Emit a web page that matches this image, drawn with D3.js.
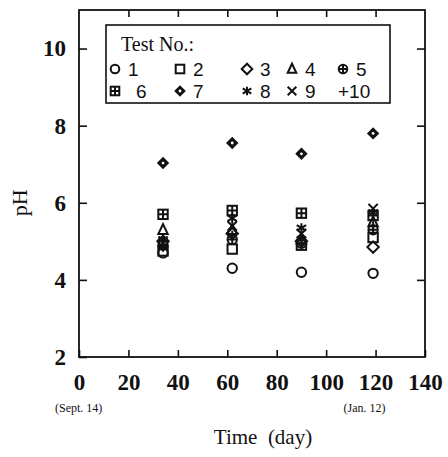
<!DOCTYPE html>
<html>
<head>
<meta charset="utf-8">
<script src="https://cdn.jsdelivr.net/npm/d3@7"></script>
<style>
  body { margin: 0; background: #fff; }
  .axis text { font-family: "Liberation Serif", serif; font-weight: bold; font-size: 23px; fill: #111; }
  .axis line { stroke: #111; stroke-width: 1.6; }
  .axis path { display: none; }
</style>
</head>
<body>
<div id="chart"></div>
<script>
const days = [34, 62, 90, 119];
const tests = ["1", "2", "3", "4", "5", "6", "7", "8", "9", "10"];
const shapes = ["circle", "square", "diamond", "triangle", "circlePlus", "squarePlus", "diamondFill", "asterisk", "times", "plus"];
const ph1 = [4.7, 4.3, 4.2, 4.17];
const ph2 = [4.75, 4.8, 4.9, 5.1];
const ph3 = [5.0, 5.2, 5.0, 4.85];
const ph4 = [5.3, 5.3, 5.05, 5.5];
const ph5 = [4.9, 5.05, 4.95, 5.3];
const ph6 = [5.7, 5.8, 5.73, 5.67];
const ph7 = [7.03, 7.55, 7.27, 7.8];
const ph8 = [5.05, 5.6, 5.35, 5.75];
const ph9 = [4.95, 5.4, 5.2, 5.85];
const ph10 = [4.85, 5.15, 5.1, 5.4];
const series = [ph1, ph2, ph3, ph4, ph5, ph6, ph7, ph8, ph9, ph10];
const xTicks = [0, 20, 40, 60, 80, 100, 120, 140];
const yTicks = [2, 4, 6, 8, 10];

const margin = { top: 10, right: 23, bottom: 100, left: 79 },
  width = 448 - margin.left - margin.right,
  height = 457 - margin.top - margin.bottom;

const x = d3.scaleLinear().domain([0, 140]).range([0, width]),
  y = d3.scaleLinear().domain([2, 11]).range([height, 0]);

const svg = d3
  .select("#chart")
  .append("svg")
  .attr("width", 448)
  .attr("height", 457)
  .append("g")
  .attr("transform", "translate(" + margin.left + "," + margin.top + ")");

// axes with inward ticks
svg.append("g").attr("class", "axis")
  .attr("transform", "translate(0," + height + ")")
  .call(d3.axisBottom(x).tickValues(xTicks).tickSizeInner(-7).tickSizeOuter(0).tickPadding(17));
svg.append("g").attr("class", "axis")
  .call(d3.axisLeft(y).tickValues(yTicks).tickSizeInner(-8).tickSizeOuter(0).tickPadding(13));
svg.append("g").attr("class", "axis")
  .call(d3.axisTop(x).tickValues(xTicks.slice(1, -1)).tickSizeInner(-7).tickSizeOuter(0).tickFormat(""));
svg.append("g").attr("class", "axis")
  .attr("transform", "translate(" + width + ",0)")
  .call(d3.axisRight(y).tickValues(yTicks.slice(1)).tickSizeInner(-8).tickSizeOuter(0).tickFormat(""));

svg.append("rect")
  .attr("width", width).attr("height", height)
  .attr("fill", "none").attr("stroke", "#111").attr("stroke-width", 1.8);

function marker(g, type, h) {
  const st = (sel) => sel.attr("fill", "none").attr("stroke", "#111").attr("stroke-width", 2);
  if (type === "circle" || type === "circlePlus") {
    st(g.append("circle").attr("r", h));
  }
  if (type === "square" || type === "squarePlus") {
    st(g.append("rect").attr("x", -h).attr("y", -h).attr("width", 2 * h).attr("height", 2 * h));
  }
  if (type === "circlePlus" || type === "squarePlus" || type === "plus") {
    st(g.append("path").attr("d", `M${-h},0H${h}M0,${-h}V${h}`));
  }
  if (type === "diamond") {
    st(g.append("path").attr("d", `M0,${-h - 1}L${h + 1},0L0,${h + 1}L${-h - 1},0Z`));
  }
  if (type === "diamondFill") {
    g.append("path").attr("d", `M0,${-h - 1.5}L${h + 1.5},0L0,${h + 1.5}L${-h - 1.5},0Z`).attr("fill", "#111");
    g.append("circle").attr("r", 1.4).attr("fill", "#fff");
  }
  if (type === "triangle") {
    st(g.append("path").attr("d", `M0,${-h - 1}L${h},${h - 0.5}L${-h},${h - 0.5}Z`));
  }
  if (type === "asterisk") {
    st(g.append("path").attr("d", `M0,${-h}V${h}M${-h},${-h * 0.6}L${h},${h * 0.6}M${-h},${h * 0.6}L${h},${-h * 0.6}`));
  }
  if (type === "times") {
    st(g.append("path").attr("d", `M${-h},${-h}L${h},${h}M${-h},${h}L${h},${-h}`));
  }
}

// data points
series.forEach((vals, i) => {
  vals.forEach((v, j) => {
    const g = svg.append("g").attr("transform", "translate(" + x(days[j]) + "," + y(v) + ")");
    marker(g, shapes[i], 4.7);
  });
});

// legend
const leg = svg.append("g").attr("transform", "translate(" + (106 - margin.left) + "," + (25 - margin.top) + ")");
leg.append("rect").attr("width", 284).attr("height", 78)
  .attr("fill", "#fff").attr("stroke", "#111").attr("stroke-width", 1.6);
leg.append("text").attr("x", 15).attr("y", 26).text("Test No.:")
  .style("font-family", "Liberation Serif, serif").style("font-size", "20px").attr("fill", "#111");
const colX = [9, 74, 141, 186, 237];
tests.forEach((t, i) => {
  const row = Math.floor(i / 5), col = i % 5;
  const cy = row === 0 ? 44 : 66;
  if (shapes[i] !== "plus") {
    marker(leg.append("g").attr("transform", "translate(" + colX[col] + "," + cy + ")"), shapes[i], 4.3);
  }
  leg.append("text")
    .attr("x", shapes[i] === "plus" ? colX[col] - 5 : colX[col] + 13 + (i === 5 ? 8 : 0))
    .attr("y", cy + 7)
    .text(shapes[i] === "plus" ? "+" + t : t)
    .style("font-family", "Liberation Sans, sans-serif").style("font-size", "19px").attr("fill", "#111");
});

// axis titles and date notes
svg.append("text").attr("x", x(0) - 24).attr("y", height + 55).text("(Sept. 14)")
  .style("font-family", "Liberation Serif, serif").style("font-size", "12px").attr("fill", "#111");
svg.append("text").attr("x", x(120) - 32).attr("y", height + 55).text("(Jan. 12)")
  .style("font-family", "Liberation Serif, serif").style("font-size", "12px").attr("fill", "#111");
svg.append("text").attr("x", width / 2 + 11).attr("y", height + 87).attr("text-anchor", "middle")
  .text("Time\u2002(day)")
  .style("font-family", "Liberation Serif, serif").style("font-size", "21px").attr("fill", "#111");
svg.append("text").attr("transform", "translate(" + -52 + "," + y(6) + ") rotate(-90)")
  .attr("text-anchor", "middle").text("pH")
  .style("font-family", "Liberation Serif, serif").style("font-size", "22px").attr("fill", "#111");
</script>
</body>
</html>
